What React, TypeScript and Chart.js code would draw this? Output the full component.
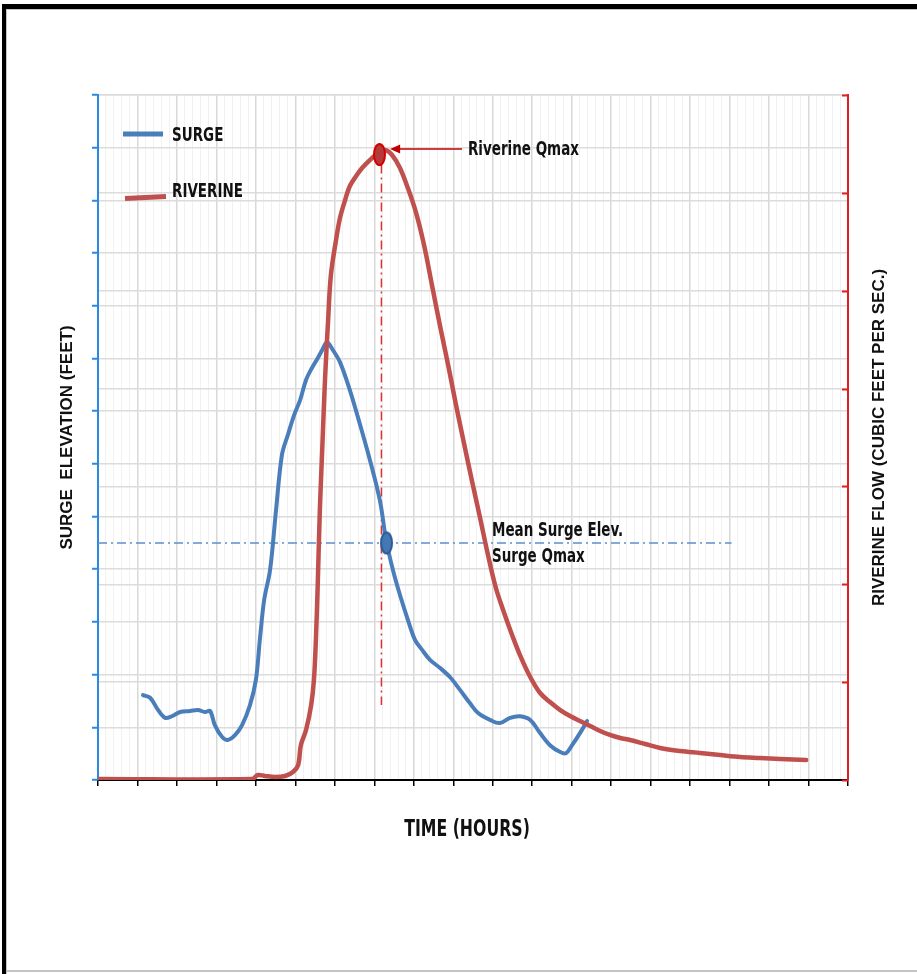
import React, { useEffect, useRef } from 'react';
import { Chart, registerables } from 'chart.js';

Chart.register(...registerables);

// ---- axis ranges (no tick labels shown in the original) ----
const timeMaxHours = 19;
const surgeMaxFeet = 13;
const flowMaxCfs = 7000;
const flowStepCfs = 1000;

// ---- SURGE series (hours, feet) ----
const surgeHours = [
  1.14, 1.32, 1.52, 1.70, 1.87, 2.08, 2.33, 2.53, 2.71, 2.84, 2.96, 3.14, 3.29, 3.47, 3.65, 3.85,
  4.00, 4.10, 4.21, 4.36, 4.51, 4.66, 4.81, 4.97, 5.12, 5.27, 5.42, 5.57, 5.68, 5.80, 5.95, 6.13,
  6.38, 6.64, 6.89, 7.14, 7.30, 7.47, 7.65, 7.85, 8.03, 8.21, 8.41, 8.66, 8.92, 9.17, 9.42, 9.63,
  9.93, 10.18, 10.44, 10.69, 10.95, 11.20, 11.45, 11.71, 11.86, 12.01, 12.21, 12.39,
];
const surgeFeet = [
  1.61, 1.56, 1.33, 1.18, 1.21, 1.29, 1.31, 1.33, 1.29, 1.31, 1.04, 0.82, 0.76, 0.85, 1.04, 1.42,
  1.90, 2.66, 3.42, 3.99, 5.12, 6.17, 6.55, 6.93, 7.21, 7.59, 7.82, 8.01, 8.16, 8.31, 8.16, 7.93,
  7.40, 6.74, 6.07, 5.31, 4.55, 3.99, 3.51, 3.04, 2.66, 2.47, 2.28, 2.13, 1.95, 1.71, 1.46, 1.27,
  1.14, 1.08, 1.18, 1.21, 1.14, 0.89, 0.66, 0.53, 0.51, 0.66, 0.89, 1.12,
];

// ---- RIVERINE series (hours, cubic feet per second) ----
const riverHours = [
  0, 3.90, 4.05, 4.23, 4.48, 4.74, 4.94, 5.07, 5.14, 5.27, 5.40, 5.47, 5.52, 5.57, 5.62, 5.68,
  5.75, 5.83, 5.90, 6.03, 6.13, 6.26, 6.38, 6.54, 6.69, 6.89, 7.09, 7.27, 7.45, 7.65, 7.85, 8.06,
  8.26, 8.46, 8.66, 8.87, 9.07, 9.27, 9.48, 9.68, 9.88, 10.08, 10.29, 10.49, 10.69, 10.95, 11.20,
  11.45, 11.71, 11.96, 12.21, 12.47, 12.72, 12.97, 13.23, 13.48, 13.86, 14.24, 14.75, 15.25, 15.76,
  16.27, 16.77, 17.28, 17.94,
];
const riverCfs = [
  10, 10, 51, 41, 31, 41, 82, 153, 358, 511, 766, 1022, 1431, 2044, 2759, 3372,
  4087, 4701, 5160, 5518, 5743, 5927, 6070, 6172, 6254, 6336, 6407, 6438, 6387, 6254, 6049, 5794,
  5467, 5058, 4650, 4241, 3832, 3444, 3045, 2677, 2299, 1962, 1707, 1482, 1277, 1053, 889,
  797, 715, 654, 603, 552, 501, 460, 429, 409, 368, 327, 296, 276, 255,
  235, 225, 215, 204,
];

// ---- annotations ----
const meanSurgeFeet = 4.5;
const meanLineHours = [0, 16.05];
const riverQmax = { hour: 7.13, cfs: 6392 };
const surgeQmax = { hour: 7.31, feet: 4.5 };
const qmaxDropHour = 7.18;
const qmaxDropCfs = [6290, 766];
const arrowHours = [9.22, 7.40];
const arrowCfs = 6448;
const meanLabelHour = 9.98;

const legendItems = ['SURGE', 'RIVERINE'];
const annotationTexts = ['Riverine Qmax', 'Mean Surge Elev.', 'Surge Qmax'];
const axisTitles = ['SURGE  ELEVATION (FEET)', 'RIVERINE FLOW (CUBIC FEET PER SEC.)', 'TIME (HOURS)'];

const BLUE = '#4a7ebb';
const RED = '#c0504d';
const NARROW = '"Liberation Sans Narrow", "DejaVu Sans Condensed", sans-serif';
const WIDE = '"Liberation Sans", Arial, sans-serif';

function ellipseImage(w: number, h: number, fill: string, stroke: string) {
  const c = document.createElement('canvas');
  c.width = w + 4;
  c.height = h + 4;
  const g = c.getContext('2d')!;
  g.beginPath();
  g.ellipse(c.width / 2, c.height / 2, w / 2, h / 2, 0, 0, Math.PI * 2);
  g.fillStyle = fill;
  g.fill();
  g.lineWidth = 2;
  g.strokeStyle = stroke;
  g.stroke();
  return c;
}

function drawText(ctx: CanvasRenderingContext2D, text: string, x: number, y: number, font: string, color: string, align: CanvasTextAlign, sy = 1, rot = 0) {
  ctx.save();
  ctx.translate(x, y);
  if (rot) ctx.rotate(rot);
  ctx.scale(1, sy);
  ctx.font = font;
  ctx.fillStyle = color;
  ctx.textAlign = align;
  ctx.textBaseline = 'middle';
  ctx.fillText(text, 0, 0);
  ctx.restore();
}

const isMajor = (v: any) => typeof v === 'number' && Math.abs(v - Math.round(v)) < 1e-6;

const decorPlugin = {
  id: 'decor',
  beforeDraw(chart: any) {
    const { ctx, width, height } = chart;
    ctx.save();
    ctx.fillStyle = '#ffffff';
    ctx.fillRect(0, 0, width, height);
    ctx.fillStyle = '#000000';
    ctx.fillRect(2, 4, width - 2, 5);
    ctx.fillRect(2, 4, 4, height - 4);
    ctx.fillStyle = '#c4c4c4';
    ctx.fillRect(6, 9, width - 6, 1);
    ctx.fillRect(6, 9, 1, height - 9);
    ctx.fillRect(6, 970, width - 6, 2);
    ctx.restore();
  },
  afterDraw(chart: any) {
    const { ctx, scales, chartArea } = chart;
    const x = scales.x;
    const yL = scales.yL;
    const yR = scales.yR;

    // right axis: inward tick marks
    ctx.save();
    ctx.strokeStyle = '#e02020';
    ctx.lineWidth = 2;
    yR.ticks.forEach((t: any) => {
      const py = Math.round(yR.getPixelForValue(t.value)) + 0.5;
      ctx.beginPath();
      ctx.moveTo(chartArea.right - 6, py);
      ctx.lineTo(chartArea.right, py);
      ctx.stroke();
    });
    ctx.restore();

    // arrow to Riverine Qmax
    const tailX = x.getPixelForValue(arrowHours[0]);
    const tipX = x.getPixelForValue(arrowHours[1]);
    const ay = yR.getPixelForValue(arrowCfs);
    ctx.save();
    ctx.strokeStyle = '#c00000';
    ctx.fillStyle = '#c00000';
    ctx.lineWidth = 1.5;
    ctx.beginPath();
    ctx.moveTo(tailX, ay);
    ctx.lineTo(tipX + 8, ay);
    ctx.stroke();
    ctx.beginPath();
    ctx.moveTo(tipX, ay);
    ctx.lineTo(tipX + 10, ay - 4.5);
    ctx.lineTo(tipX + 10, ay + 4.5);
    ctx.closePath();
    ctx.fill();
    ctx.restore();
    drawText(ctx, annotationTexts[0], tailX + 6, ay + 1, `bold 15px ${NARROW}`, '#111', 'left', 1.3);

    // mean surge labels
    const my = yL.getPixelForValue(meanSurgeFeet);
    const mx = x.getPixelForValue(meanLabelHour);
    drawText(ctx, annotationTexts[1], mx, my - 12, `bold 15px ${NARROW}`, '#111', 'left', 1.3);
    drawText(ctx, annotationTexts[2], mx, my + 14, `bold 15px ${NARROW}`, '#111', 'left', 1.3);

    // legend inside plot
    const lx = chartArea.left;
    ctx.save();
    ctx.lineWidth = 5;
    ctx.strokeStyle = BLUE;
    ctx.beginPath();
    ctx.moveTo(lx + 25, 134);
    ctx.lineTo(lx + 65, 134);
    ctx.stroke();
    ctx.strokeStyle = RED;
    ctx.beginPath();
    ctx.moveTo(lx + 27, 198.5);
    ctx.lineTo(lx + 68, 196.5);
    ctx.stroke();
    ctx.restore();
    drawText(ctx, legendItems[0], lx + 74, 136, `bold 15px ${NARROW}`, '#111', 'left', 1.3);
    drawText(ctx, legendItems[1], lx + 74, 192, `bold 15px ${NARROW}`, '#111', 'left', 1.3);

    // axis titles
    const cy = (chartArea.top + chartArea.bottom) / 2;
    drawText(ctx, axisTitles[0], 67.5, cy, `bold 17px ${WIDE}`, '#111', 'center', 1, -Math.PI / 2);
    drawText(ctx, axisTitles[1], 879, cy, `bold 17px ${WIDE}`, '#111', 'center', 1, -Math.PI / 2);
    drawText(ctx, axisTitles[2], 467, 830, `bold 17.5px ${NARROW}`, '#111', 'center', 1.3);
  },
};

export default function App() {
  const ref = useRef<HTMLCanvasElement>(null);

  useEffect(() => {
    if (!ref.current) return;
    const surge = surgeHours.map((h, i) => ({ x: h, y: surgeFeet[i] }));
    const river = riverHours.map((h, i) => ({ x: h, y: riverCfs[i] }));
    const redMarker = ellipseImage(11, 21, '#b53a3a', '#d40000');
    const blueMarker = ellipseImage(11, 21, '#4677b5', '#2c5c96');

    const chart = new Chart(ref.current, {
      type: 'line',
      data: {
        datasets: [
          {
            label: 'Riverine Qmax',
            data: [{ x: riverQmax.hour, y: riverQmax.cfs }],
            yAxisID: 'yR',
            showLine: false,
            pointStyle: redMarker as any,
            pointRadius: 5,
            order: 0,
          },
          {
            label: 'Surge Qmax',
            data: [{ x: surgeQmax.hour, y: surgeQmax.feet }],
            yAxisID: 'yL',
            showLine: false,
            pointStyle: blueMarker as any,
            pointRadius: 5,
            order: 0,
          },
          {
            label: 'Qmax drop',
            data: [{ x: qmaxDropHour, y: qmaxDropCfs[0] }, { x: qmaxDropHour, y: qmaxDropCfs[1] }],
            yAxisID: 'yR',
            borderColor: '#e03030',
            borderWidth: 1.5,
            borderDash: [9, 4, 2, 4],
            pointRadius: 0,
            tension: 0,
            order: 3,
          },
          {
            label: 'Mean Surge Elev.',
            data: meanLineHours.map((h) => ({ x: h, y: meanSurgeFeet })),
            yAxisID: 'yL',
            borderColor: '#5b8fd0',
            borderWidth: 1.5,
            borderDash: [9, 4, 2, 4],
            pointRadius: 0,
            tension: 0,
            order: 3,
          },
          {
            label: 'RIVERINE',
            data: river,
            yAxisID: 'yR',
            borderColor: RED,
            borderWidth: 4.5,
            pointRadius: 0,
            tension: 0.35,
            borderCapStyle: 'round',
            borderJoinStyle: 'round',
            order: 1,
          },
          {
            label: 'SURGE',
            data: surge,
            yAxisID: 'yL',
            borderColor: BLUE,
            borderWidth: 4,
            pointRadius: 0,
            tension: 0.35,
            borderCapStyle: 'round',
            borderJoinStyle: 'round',
            order: 2,
          },
        ],
      },
      options: {
        responsive: false,
        maintainAspectRatio: false,
        devicePixelRatio: 1,
        animation: false,
        events: [],
        layout: { padding: { top: 95, left: 0, right: 0, bottom: 0 } },
        plugins: { legend: { display: false }, tooltip: { enabled: false } },
        scales: {
          x: {
            type: 'linear',
            min: 0,
            max: timeMaxHours,
            position: 'bottom',
            ticks: { display: false, stepSize: 0.2, autoSkip: false },
            grid: {
              color: (c: any) => (isMajor(c.tick?.value) ? '#d8d8d8' : '#f1f1f1'),
              lineWidth: (c: any) => (isMajor(c.tick?.value) ? 1.5 : 1),
              tickColor: (c: any) => (isMajor(c.tick?.value) ? '#000000' : 'rgba(0,0,0,0)'),
              tickLength: 6,
              tickWidth: 1.5,
            },
            border: { color: '#000000', width: 2 },
            afterFit: (s: any) => { s.height = 194; },
          },
          yL: {
            type: 'linear',
            position: 'left',
            min: 0,
            max: surgeMaxFeet,
            ticks: { display: false, stepSize: 1 },
            grid: { color: '#dcdcdc', lineWidth: 1.5, tickColor: '#2a8ae0', tickLength: 6, tickWidth: 2 },
            border: { color: '#2a8ae0', width: 2 },
            afterFit: (s: any) => { s.width = 98; },
          },
          yR: {
            type: 'linear',
            position: 'right',
            min: 0,
            max: flowMaxCfs,
            ticks: { display: false, stepSize: flowStepCfs },
            grid: { color: '#dcdcdc', lineWidth: 1.5, drawTicks: false, drawOnChartArea: true },
            border: { color: '#e02020', width: 2 },
            afterFit: (s: any) => { s.width = 69; },
          },
        },
      },
      plugins: [decorPlugin],
    });
    return () => chart.destroy();
  }, []);

  return (
    <div style={{ position: 'fixed', left: 0, top: 0, width: 917, height: 974, background: '#fff' }}>
      <canvas ref={ref} width={917} height={974} style={{ display: 'block', width: 917, height: 974 }} />
    </div>
  );
}
